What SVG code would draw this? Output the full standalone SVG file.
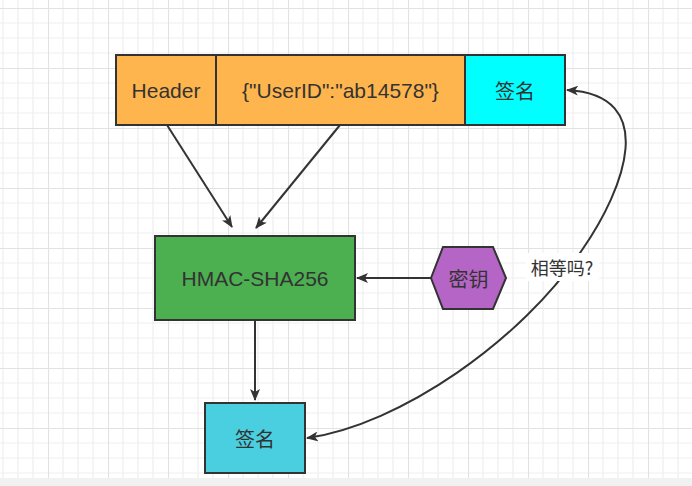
<svg xmlns="http://www.w3.org/2000/svg" width="692" height="486" viewBox="0 0 692 486">
<defs>
<pattern id="grid" x="48" y="8" width="60" height="60" patternUnits="userSpaceOnUse">
<path d="M15 0V60M30 0V60M45 0V60M0 15H60M0 30H60M0 45H60" stroke="#efefef" stroke-width="1.2" fill="none"/>
<path d="M0.5 0V60M0 0.5H60" stroke="#e2e2e2" stroke-width="1.2" fill="none"/>
</pattern>
<marker id="arr" viewBox="0 0 12 10" markerWidth="12" markerHeight="10" refX="11" refY="5" orient="auto-start-reverse" markerUnits="userSpaceOnUse">
<path d="M0 0L12 5L0 10L3 5Z" fill="#333"/>
</marker>
<style>
.box{stroke:#333;stroke-width:2}
.t{font-family:"Liberation Sans","Noto Sans CJK SC",sans-serif;font-size:21px;fill:#333;text-anchor:middle;dominant-baseline:central}
.c{font-family:"Noto Sans CJK SC",sans-serif;font-size:20px;fill:#333;text-anchor:middle;dominant-baseline:central}
.conn{stroke:#333;stroke-width:2;fill:none;marker-end:url(#arr)}
</style>
</defs>
<rect width="692" height="486" fill="#fff"/>
<rect width="692" height="486" fill="url(#grid)"/>
<rect x="0" y="478" width="692" height="8" fill="#f1f1f1"/>

<g id="header">
<rect class="box" x="116" y="55" width="100" height="70" fill="#FFB54D"/>
<text class="t" x="166" y="90">Header</text>
</g>
<g id="payload">
<rect class="box" x="216" y="55" width="249" height="70" fill="#FFB54D"/>
<text class="t" x="340.5" y="90">{"UserID":"ab14578"}</text>
</g>
<g id="signature-top">
<rect class="box" x="465" y="55" width="100" height="70" fill="#00FFFF"/>
<text class="c" x="515" y="90">签名</text>
</g>
<g id="hmac">
<rect class="box" x="155" y="236" width="200" height="84" fill="#4CAF50"/>
<text class="t" x="255" y="278">HMAC-SHA256</text>
</g>
<g id="key">
<polygon class="box" points="431,278 443,247 493,247 506,278 493,309 443,309" fill="#B565C6"/>
<text class="c" x="468.5" y="278">密钥</text>
</g>
<g id="signature-bottom">
<rect class="box" x="205" y="403" width="100" height="70" fill="#4ACFE0"/>
<text class="c" x="255" y="438">签名</text>
</g>

<g id="connectors">
<line class="conn" x1="167" y1="125" x2="232" y2="227"/>
<line class="conn" x1="340" y1="125" x2="256" y2="228"/>
<line class="conn" x1="431" y1="278" x2="357" y2="278"/>
<line class="conn" x1="255" y1="320" x2="255" y2="400"/>
<path class="conn" style="marker-start:url(#arr)" d="M307 438C400 425 522 340 582 250C625 188 660 95 567 90"/>
<rect x="526" y="253" width="73" height="28" fill="#fff"/>
<text x="562" y="267" style="font-family:'Noto Sans CJK SC',sans-serif;font-size:18px;fill:#333;text-anchor:middle;dominant-baseline:central">相等吗?</text>
</g>
</svg>
